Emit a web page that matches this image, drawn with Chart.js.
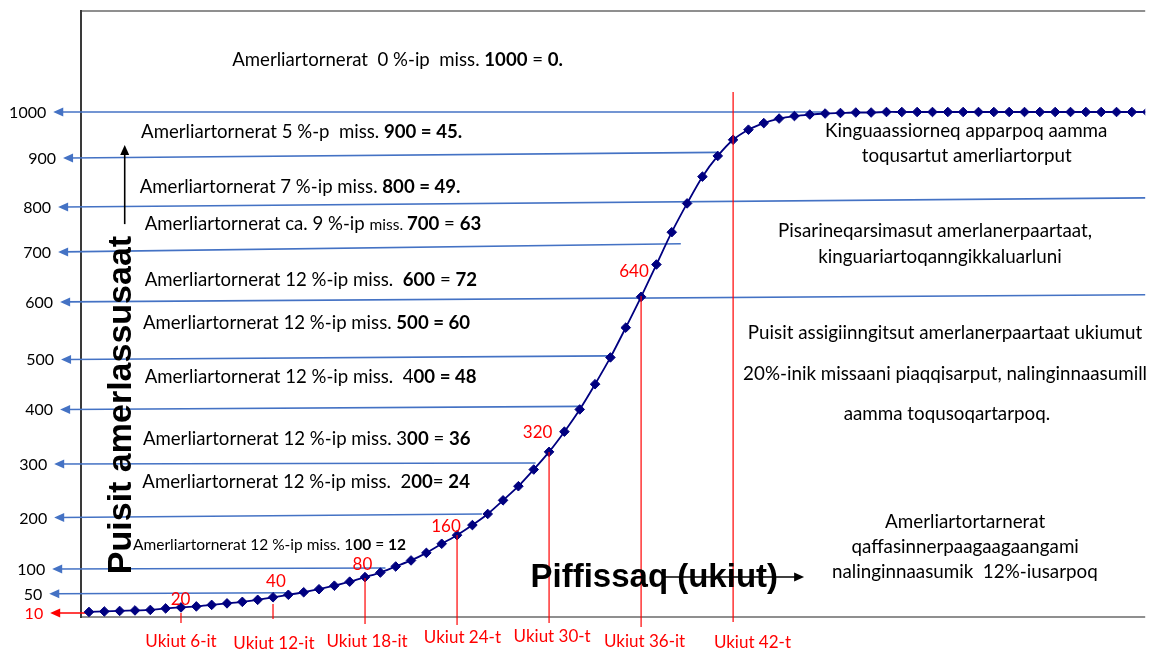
<!DOCTYPE html>
<html>
<head>
<meta charset="utf-8">
<script src="https://cdn.jsdelivr.net/npm/chart.js@4.4.0/dist/chart.umd.min.js"></script>
<style>
  html, body { margin: 0; padding: 0; background: #fff; overflow: hidden; }
</style>
</head>
<body>
<canvas id="growth-chart" width="1151" height="650"></canvas>
<script>
// curve: population by year
const weeks = [0, 1, 2, 3, 4, 5, 6, 7, 8, 9, 10, 11, 12, 13, 14, 15, 16, 17, 18, 19,
  20, 21, 22, 23, 24, 25, 26, 27, 28, 29, 30, 31, 32, 33, 34, 35, 36, 37, 38, 39,
  40, 41, 42, 43, 44, 45, 46, 47, 48, 49, 50, 51, 52, 53, 54, 55, 56, 57, 58, 59,
  60, 61, 62, 63, 64, 65, 66, 67, 68, 69];
const populationValues = [10, 11, 12, 13, 14, 17, 19, 21, 24, 27, 30, 34, 39, 44, 49, 55, 62, 70, 79, 88,
  100, 112, 127, 145, 162, 182, 204, 231, 259, 292, 327, 367, 411, 461, 514, 573, 634, 698, 762, 819,
  872, 913, 945, 965, 978, 987, 992, 995, 997, 998, 999, 999, 1000, 1000, 1000, 1000, 1000, 1000, 1000, 1000,
  1000, 1000, 1000, 1000, 1000, 1000, 1000, 1000, 1000, 1000];

// left hand "tick" labels with their blue arrows
const levelLabels = ["1000", "900", "800", "700", "600", "500", "400", "300", "200", "100", "50", "10"];
const levelTipWeeks = [-2.33, -1.69, -2.01, -2.01, -1.88, -1.82, -1.88, -2.27, -2.27, -2.40, -2.59, -2.53];
const levelStartValues = [1000, 909, 812, 723, 624, 510, 411, 303, 197, 95, 46, 8];
const levelEndWeeks = [48.05, 40.99, 68.87, 38.59, 68.87, 33.98, 32.04, 29.12, 25.62, 19.33, 13.16, 0.19];
const levelEndValues = [1000, 920, 830, 739, 638, 517, 417, 305, 204, 97, 48, 8];

// red year markers
const yearWeeks = [6, 12, 18, 24, 30, 36, 42];
const yearTopValues = [7.9, 25.7, 77.2, 162.4, 326.7, 635.6, 1039.6];
const yearBottomValues = [-11.9, -4, -13.9, -15.8, -11.9, -19.8, -9.9];
const yearLabels = ["Ukiut 6-it", "Ukiut 12-it", "Ukiut 18-it", "Ukiut 24-t", "Ukiut 30-t", "Ukiut 36-it", "Ukiut 42-t"];
const yearLabelWeeks = [6.0, 12.06, 18.13, 24.35, 30.2, 36.23, 43.26];
const yearLabelValues = [-59.4, -63.4, -59.4, -51.5, -49.5, -59.4, -61.4];

// doubling values written next to the curve
const doublingLabels = ["20", "40", "80", "160", "320", "640"];
const doublingWeeks = [5.97, 12.19, 17.83, 23.28, 29.25, 35.54];
const doublingValues = [23.8, 59.4, 93.1, 168.3, 354.5, 673.3];

// growth notes: [text, font key]
const growthNotes = [
  [["Amerliartornerat  0 %-ip  miss. ", "n"], ["1000", "b"], [" = ", "n"], ["0.", "b"]],
  [["Amerliartornerat 5 %-p  miss. ", "n"], ["900 = 45.", "b"]],
  [["Amerliartornerat 7 %-ip miss. ", "n"], ["800 = 49.", "b"]],
  [["Amerliartornerat ca. 9 %-ip ", "n"], ["miss. ", "s"], ["700", "b"], [" = ", "n"], ["63", "b"]],
  [["Amerliartornerat 12 %-ip miss.  ", "n"], ["600", "b"], [" = ", "n"], ["72", "b"]],
  [["Amerliartornerat 12 %-ip miss. ", "n"], ["500 = 60", "b"]],
  [["Amerliartornerat 12 %-ip miss.  4", "n"], ["00 = 48", "b"]],
  [["Amerliartornerat 12 %-ip miss. 3", "n"], ["00", "b"], [" = ", "n"], ["36", "b"]],
  [["Amerliartornerat 12 %-ip miss.  2", "n"], ["00", "b"], ["= ", "n"], ["24", "b"]],
  [["Amerliartornerat 12 %-ip miss. 1", "s"], ["00", "sb"], [" = ", "s"], ["12", "sb"]]
];
const growthNoteWeeks = [9.34, 3.4, 3.31, 3.63, 3.63, 3.52, 3.63, 3.52, 3.48, 2.87];
const growthNoteValues = [1091, 947.9, 839, 766.3, 656.4, 569.7, 464, 340.6, 254.9, 132.7];

// explanation texts on the right (centred)
const sideTexts = [
  "Kinguaassiorneq apparpoq aamma",
  "toqusartut amerliartorput",
  "Pisarineqarsimasut amerlanerpaartaat,",
  "kinguariartoqanngikkaluarluni",
  "Puisit assigiinngitsut amerlanerpaartaat ukiumut",
  "20%-inik missaani piaqqisarput, nalinginnaasumill",
  "aamma toqusoqartarpoq.",
  "Amerliartortarnerat",
  "qaffasinnerpaagaagaangami",
  "nalinginnaasumik  12%-iusarpoq"
];
const sideTextWeeks = [57.2, 57.23, 55.17, 55.49, 55.82, 55.82, 55.94, 57.13, 57.13, 57.11];
const sideTextValues = [951, 901.6, 753, 701.6, 549.9, 469.3, 390.1, 175.6, 127.3, 77.8];

const yTitle = "Puisit amerlassusaat";
const xTitle = "Piffissaq (ukiut)";

const FONT = 'Lato, "Noto Sans", sans-serif';
const noteFonts = {
  n: "18.6px " + FONT,
  b: "bold 18.6px " + FONT,
  s: "15.5px " + FONT,
  sb: "bold 15.5px " + FONT
};

function arrowHead(ctx, tx, ty, dx, dy, len, half) {
  ctx.beginPath();
  ctx.moveTo(tx, ty);
  ctx.lineTo(tx - dx * len - dy * half, ty - dy * len + dx * half);
  ctx.lineTo(tx - dx * len + dy * half, ty - dy * len - dx * half);
  ctx.closePath();
  ctx.fill();
}

function drawRich(ctx, parts, x, y) {
  let cx = x;
  parts.forEach(([text, key]) => {
    ctx.font = noteFonts[key];
    ctx.fillText(text, cx, y);
    cx += ctx.measureText(text).width;
  });
}

const diagramPlugin = {
  id: "diagram",
  beforeDatasetsDraw(chart) {
    const { ctx, chartArea: a } = chart;
    const xs = chart.scales.x, ys = chart.scales.y;
    ctx.save();

    // frame
    ctx.lineWidth = 2;
    ctx.strokeStyle = "#8f8f8f";
    ctx.beginPath();
    ctx.moveTo(a.left, a.top); ctx.lineTo(a.right, a.top);
    ctx.moveTo(a.left, a.bottom); ctx.lineTo(a.right, a.bottom);
    ctx.stroke();
    ctx.strokeStyle = "#3a3a3a";
    ctx.beginPath();
    ctx.moveTo(a.left, a.top - 1); ctx.lineTo(a.left, a.bottom + 1);
    ctx.stroke();

    // level arrows
    levelLabels.forEach((lab, i) => {
      const red = lab === "10";
      const color = red ? "#ff0000" : "#4472c4";
      const tx = xs.getPixelForValue(levelTipWeeks[i]);
      const ty = ys.getPixelForValue(levelStartValues[i]);
      const ex = xs.getPixelForValue(levelEndWeeks[i]);
      const ey = ys.getPixelForValue(levelEndValues[i]);
      ctx.strokeStyle = color;
      ctx.fillStyle = color;
      ctx.lineWidth = 1.6;
      ctx.beginPath();
      ctx.moveTo(ex, ey);
      ctx.lineTo(tx + 6, ty);
      ctx.stroke();
      arrowHead(ctx, tx, ty, -1, 0, 10, 4.5);

      ctx.fillStyle = red ? "#ff0000" : "#000";
      ctx.font = "16px " + FONT;
      ctx.textAlign = "right";
      ctx.textBaseline = "alphabetic";
      ctx.fillText(lab, tx - 7, ty + 6);
    });
    ctx.restore();
  },
  afterDatasetsDraw(chart) {
    const { ctx } = chart;
    const xs = chart.scales.x, ys = chart.scales.y;
    const px = v => xs.getPixelForValue(v);
    const py = v => ys.getPixelForValue(v);
    ctx.save();
    ctx.textBaseline = "alphabetic";

    // red year markers
    ctx.strokeStyle = "#ff0000";
    ctx.lineWidth = 1.2;
    yearWeeks.forEach((w, i) => {
      ctx.beginPath();
      ctx.moveTo(px(w), py(yearTopValues[i]));
      ctx.lineTo(px(w), py(yearBottomValues[i]));
      ctx.stroke();
    });
    ctx.fillStyle = "#ff0000";
    ctx.font = "17px " + FONT;
    ctx.textAlign = "center";
    yearLabels.forEach((lab, i) => {
      ctx.fillText(lab, px(yearLabelWeeks[i]), py(yearLabelValues[i]));
    });
    doublingLabels.forEach((lab, i) => {
      ctx.fillText(lab, px(doublingWeeks[i]), py(doublingValues[i]));
    });

    // notes
    ctx.fillStyle = "#000";
    ctx.textAlign = "left";
    growthNotes.forEach((parts, i) => {
      drawRich(ctx, parts, px(growthNoteWeeks[i]), py(growthNoteValues[i]));
    });

    ctx.textAlign = "center";
    ctx.font = "18.8px " + FONT;
    sideTexts.forEach((t, i) => {
      ctx.fillText(t, px(sideTextWeeks[i]), py(sideTextValues[i]));
    });

    // axis titles
    ctx.font = "bold 33px 'Liberation Sans', Arial, sans-serif";
    ctx.textAlign = "left";
    ctx.fillText(xTitle, px(28.79), py(59.4));
    ctx.strokeStyle = "#000";
    ctx.fillStyle = "#000";
    ctx.lineWidth = 1.6;
    ctx.beginPath();
    ctx.moveTo(px(37.48), py(79.2));
    ctx.lineTo(px(46.63) - 6, py(79.2));
    ctx.stroke();
    arrowHead(ctx, px(46.63), py(79.2), 1, 0, 10, 4.5);

    ctx.save();
    ctx.translate(px(2.72), py(419.8));
    ctx.rotate(-Math.PI / 2);
    ctx.font = "bold 34px 'Liberation Sans', Arial, sans-serif";
    ctx.textAlign = "center";
    ctx.fillText(yTitle, 0, 0);
    ctx.restore();

    ctx.beginPath();
    ctx.moveTo(px(2.33), py(778));
    ctx.lineTo(px(2.33), py(934.7) + 6);
    ctx.stroke();
    arrowHead(ctx, px(2.33), py(934.7), 0, -1, 10, 4.5);

    ctx.restore();
  }
};

new Chart(document.getElementById("growth-chart").getContext("2d"), {
  type: "line",
  data: {
    datasets: [{
      label: "Puisit",
      data: weeks.map((w, i) => ({ x: w, y: populationValues[i] })),
      borderColor: "#000080",
      backgroundColor: "#000080",
      borderWidth: 1.8,
      pointStyle: "rectRot",
      pointRadius: 4.8,
      pointBorderWidth: 1,
      pointBackgroundColor: "#000080",
      pointBorderColor: "#000080",
      tension: 0.3
    }]
  },
  options: {
    responsive: false,
    animation: false,
    layout: { padding: { left: 81, top: 11, right: 0, bottom: 33 } },
    plugins: { legend: { display: false }, tooltip: { enabled: false } },
    scales: {
      x: { type: "linear", min: -0.52, max: 68.87, display: false },
      y: { type: "linear", min: 0, max: 1200, display: false }
    }
  },
  plugins: [diagramPlugin]
});
</script>
</body>
</html>
